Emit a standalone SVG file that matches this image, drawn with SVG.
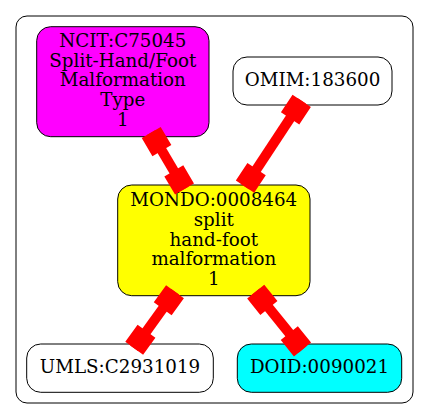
<svg xmlns="http://www.w3.org/2000/svg" width="429" height="419" viewBox="0 0 429 419">
<style>
.node rect{stroke:#000;stroke-width:1}
.lbl{font-family:"DejaVu Serif",serif;font-size:18.3px;text-anchor:middle;fill:#000}
.body{stroke:#f00;stroke-width:10;fill:none}
.box{stroke:#f00;stroke-width:22;fill:none}
</style>
<rect width="429" height="419" fill="#fff"/>
<g id="cluster">
<rect x="16" y="16" width="397" height="387" rx="11" ry="11" fill="none" stroke="#000" stroke-width="1"/>
</g>
<g id="ncit" class="node">
<rect x="36.7" y="26.7" width="172.3" height="110" rx="14" ry="14" fill="#ff00ff"/>
<text class="lbl" x="122.8" y="46.7">NCIT:C75045</text>
<text class="lbl" x="122.8" y="66.5">Split-Hand/Foot</text>
<text class="lbl" x="122.8" y="86.3">Malformation</text>
<text class="lbl" x="122.8" y="106">Type</text>
<text class="lbl" x="122.8" y="126">1</text>
</g>
<g id="omim" class="node">
<rect x="233" y="57" width="159" height="48" rx="14" ry="14" fill="#fff"/>
<text class="lbl" x="312.5" y="86.3">OMIM:183600</text>
</g>
<g id="mondo" class="node">
<rect x="117.7" y="185" width="192.3" height="110.7" rx="14" ry="14" fill="#ffff00"/>
<text class="lbl" x="213.8" y="206">MONDO:0008464</text>
<text class="lbl" x="213.8" y="225.7">split</text>
<text class="lbl" x="213.8" y="245.5">hand-foot</text>
<text class="lbl" x="213.8" y="265.2">malformation</text>
<text class="lbl" x="213.8" y="285">1</text>
</g>
<g id="umls" class="node">
<rect x="26.7" y="344" width="186.6" height="48.3" rx="14" ry="14" fill="#fff"/>
<text class="lbl" x="120" y="373.3">UMLS:C2931019</text>
</g>
<g id="doid" class="node">
<rect x="237.3" y="344" width="164.4" height="48.3" rx="14" ry="14" fill="#00ffff"/>
<text class="lbl" x="319.5" y="373.3">DOID:0090021</text>
</g>
<g id="edges">
<g id="e1">
<path class="body" d="M151.2,132.5L184.5,189"/>
<path class="box" d="M151.2,132.5L161.9,150.6M173.8,170.9L184.5,189"/>
</g>
<g id="e2">
<path class="body" d="M301.7,100.8L245,186.7"/>
<path class="box" d="M301.7,100.8L290.1,118.3M256.6,169.2L245,186.7"/>
</g>
<g id="e3">
<path class="body" d="M175,291.7L134.2,348.3"/>
<path class="box" d="M175,291.7L162.7,308.7M146.5,331.3L134.2,348.3"/>
</g>
<g id="e4">
<path class="body" d="M255.7,291.7L302.5,349.5"/>
<path class="box" d="M255.7,291.7L268.9,308M289.3,333.2L302.5,349.5"/>
</g>
</g>
</svg>
